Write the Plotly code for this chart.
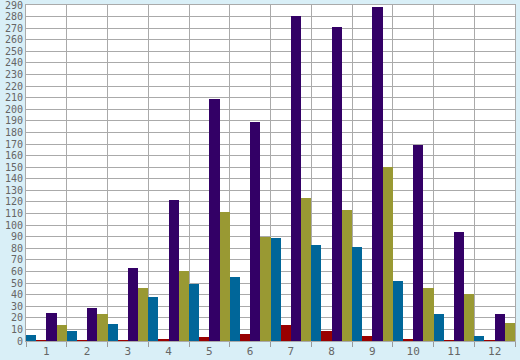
import plotly.graph_objects as go

categories = [str(i) for i in range(1, 13)]
blue = [5, 9, 14.5, 38, 49.5, 55.5, 88.5, 82.5, 81.5, 52, 23.5, 4.5]
red = [0.5, 0.5, 0.5, 2, 3.5, 6, 14, 8.7, 4.3, 1.2, 0.5, 0.5]
purple = [24.3, 28.6, 63.3, 121.4, 209, 189, 280.4, 270.6, 288, 169, 93.7, 23.4]
olive = [13.9, 23.4, 46, 60, 111, 90, 123, 112.7, 150, 46, 40.8, 15.6]
y_ticks = list(range(0, 291, 10))

series = [
    ("A", blue, "#006699"),
    ("B", red, "#990000"),
    ("C", purple, "#330066"),
    ("D", olive, "#999933"),
]

fig = go.Figure()
for name, vals, col in series:
    fig.add_trace(go.Bar(x=categories, y=vals, name=name, marker=dict(color=col, line=dict(width=0))))

font = dict(family="DejaVu Sans Mono", size=10, color="#666666")
fig.update_layout(
    width=520, height=360,
    margin=dict(l=26, r=5, t=5, b=19),
    paper_bgcolor="#D9EFF7",
    plot_bgcolor="#FFFFFF",
    barmode="group", bargap=0, bargroupgap=0,
    showlegend=False,
    font=font,
    xaxis=dict(type="category", tickson="boundaries", showgrid=True, gridcolor="#AAAAAA", gridwidth=1,
               ticks="outside", ticklen=5, tickcolor="#999999", showline=True, linecolor="#AAAAAA",
               mirror=True, ticklabelstandoff=0, automargin=False,
               tickfont=dict(family="DejaVu Sans Mono", size=11, color="#666666")),
    yaxis=dict(range=[0, 290], tickvals=y_ticks, showgrid=True, gridcolor="#AAAAAA", gridwidth=1,
               showline=True, linecolor="#AAAAAA", mirror=True, ticks="", zeroline=False,
               automargin=False,
               tickfont=dict(family="DejaVu Sans Mono", size=10, color="#666666"),
               ticklabelstandoff=0, ticklabeloverflow="allow"),
)
fig.write_html("out.html")
